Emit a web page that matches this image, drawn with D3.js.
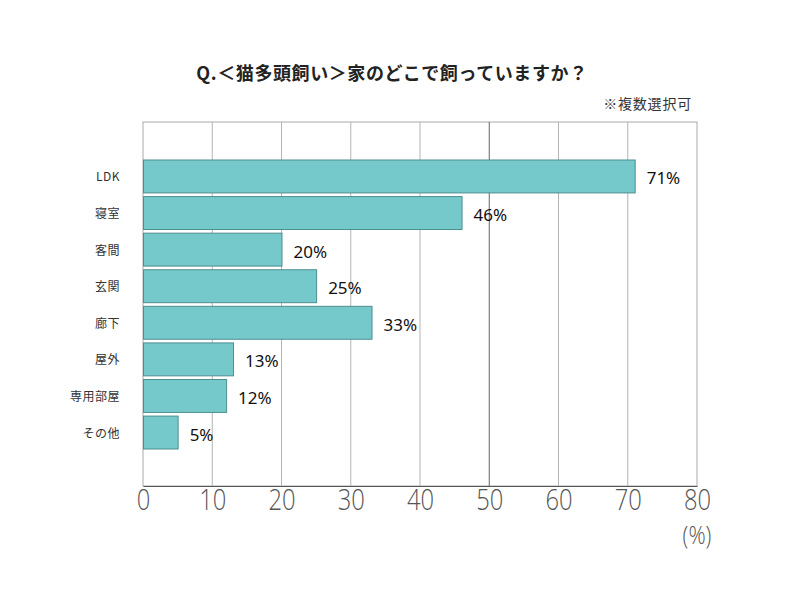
<!DOCTYPE html>
<html>
<head>
<meta charset="utf-8">
<script src="https://cdn.jsdelivr.net/npm/d3@7"></script>
<style>
  body { margin: 0; background: #fff; }
  svg { display: block; }
</style>
</head>
<body>
<div id="chart"></div>
<script>
(() => {
  const categories = ["LDK", "寝室", "客間", "玄関", "廊下", "屋外", "専用部屋", "その他"];
  const values = [71, 46, 20, 25, 33, 13, 12, 5];
  const xTicks = [0, 10, 20, 30, 40, 50, 60, 70, 80];
  const title = "Q.＜猫多頭飼い＞家のどこで飼っていますか？";
  const note = "※複数選択可";
  const unit = "(%)";

  const W = 800, H = 611;
  const margin = { top: 122, left: 143, right: 103, bottom: 125 };
  const width = W - margin.left - margin.right,
        height = H - margin.top - margin.bottom;

  const svg = d3.select("#chart").append("svg")
    .attr("width", W)
    .attr("height", H);

  // title and note
  svg.append("text")
    .attr("x", 392).attr("y", 80)
    .attr("text-anchor", "middle")
    .style("font-family", "'Noto Sans CJK JP', 'Noto Sans', sans-serif")
    .style("font-size", "18px")
    .style("font-weight", "bold")
    .style("letter-spacing", "0.6px")
    .attr("fill", "#222")
    .text(title);

  svg.append("text")
    .attr("x", 692).attr("y", 109)
    .attr("text-anchor", "end")
    .style("font-family", "'Noto Sans CJK JP', sans-serif")
    .style("font-size", "14px")
    .style("letter-spacing", "0.8px")
    .attr("fill", "#333")
    .text(note);

  const g = svg.append("g")
    .attr("transform", `translate(${margin.left},${margin.top})`);

  const x = d3.scaleLinear().domain([0, 80]).range([0, width]);
  const y = d3.scaleBand().domain(categories)
    .range([160 - margin.top, 449 - margin.top])
    .paddingInner(0.1);

  // frame + grid
  g.append("rect")
    .attr("x", 0).attr("y", 0)
    .attr("width", width).attr("height", height)
    .attr("fill", "none")
    .attr("stroke", "#aaa");

  g.selectAll(".grid")
    .data(xTicks.slice(1, -1))
    .enter().append("line")
    .attr("x1", d => x(d)).attr("x2", d => x(d))
    .attr("y1", 0).attr("y2", height)
    .attr("stroke", d => d === 50 ? "#666" : "#b4b4b4")
    .attr("stroke-width", 1);

  // bars
  g.selectAll(".bar")
    .data(values)
    .enter().append("rect")
    .attr("x", 0.5)
    .attr("y", (d, i) => y(categories[i]))
    .attr("width", d => x(d))
    .attr("height", y.bandwidth())
    .attr("fill", "#76c9cb")
    .attr("stroke", "#4d8e90")
    .attr("stroke-width", 1);

  // value labels
  g.selectAll(".val")
    .data(values)
    .enter().append("text")
    .attr("x", d => x(d) + 12)
    .attr("y", (d, i) => y(categories[i]) + y.bandwidth() / 2 + 8)
    .style("font-family", "'Noto Sans', sans-serif")
    .style("font-size", "17px")
    .attr("fill", "#111")
    .text(d => d + "%");

  // category labels
  g.selectAll(".cat")
    .data(categories)
    .enter().append("text")
    .attr("x", -23)
    .attr("y", d => y(d) + y.bandwidth() / 2 + 5)
    .attr("text-anchor", "end")
    .style("font-family", "'Noto Sans CJK JP', sans-serif")
    .style("font-size", "12px")
    .style("letter-spacing", "0.5px")
    .attr("fill", "#333")
    .text(d => d);

  // x axis
  const xAxis = g.append("g")
    .attr("transform", `translate(0,${height})`)
    .call(d3.axisBottom(x).tickValues(xTicks).tickSize(0).tickPadding(3));
  xAxis.select(".domain").attr("stroke", "#555");
  xAxis.selectAll(".tick text")
    .style("font-family", "'Open Sans', sans-serif")
    .style("font-weight", "300")
    .style("font-size", "29px")
    .attr("fill", "#555")
    .attr("transform", "scale(0.82,1)");

  g.append("text")
    .attr("x", x(80))
    .attr("y", height + 58)
    .attr("text-anchor", "middle")
    .attr("transform", `translate(${x(80) * 0.18},0) scale(0.82,1)`)
    .style("font-family", "'Open Sans', sans-serif")
    .style("font-weight", "300")
    .style("font-size", "26px")
    .attr("fill", "#555")
    .text(unit);
})();
</script>
</body>
</html>
